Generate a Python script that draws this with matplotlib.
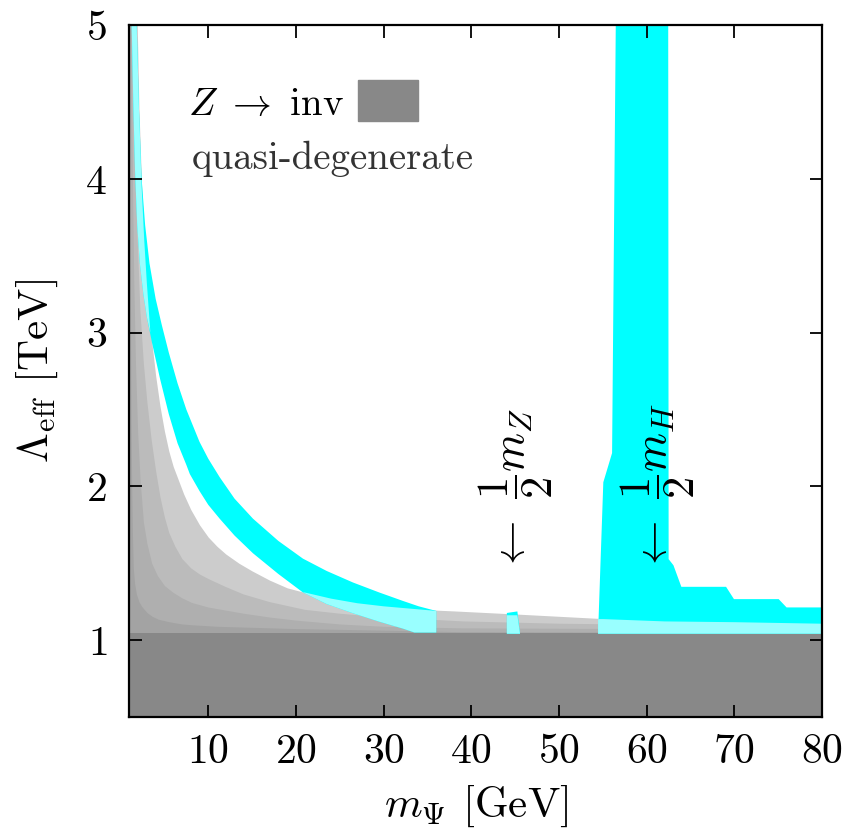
import numpy as np
from matplotlib import pyplot as plt
from matplotlib.patches import Rectangle

plt.rcParams['font.family'] = 'cmr10'
plt.rcParams['mathtext.fontset'] = 'cm'
plt.rcParams['axes.formatter.use_mathtext'] = True

# Quasi-degenerate layers (upper edges), lightest first
layer1X = [1.0, 1.9, 2.1, 2.4, 2.7, 3.0, 3.5, 4.0, 4.5, 5.0, 5.5, 6.0, 6.6, 7.2, 8.0, 9.0, 10.0, 11.0, 12.0, 13.5, 15.0, 17.0, 19.0, 21.0, 24.0, 27.0, 30.0, 34.0, 38.0, 45.0, 55.0, 65.0, 80.0]
layer1Y = [5.6, 5.0, 4.45, 3.95, 3.6, 3.32, 2.97, 2.72, 2.52, 2.36, 2.23, 2.13, 2.04, 1.95, 1.85, 1.75, 1.67, 1.61, 1.56, 1.50, 1.45, 1.39, 1.34, 1.31, 1.27, 1.24, 1.22, 1.20, 1.19, 1.17, 1.14, 1.125, 1.11]
layer2X = [1.0, 1.3, 1.5, 1.8, 2.2, 2.6, 3.0, 3.5, 4.0, 4.5, 5.0, 5.5, 6.2, 7.0, 8.0, 9.0, 10.0, 11.9, 14.0, 17.0, 21.0, 25.0, 29.0, 34.0, 39.0, 50.0, 80.0]
layer2Y = [5.6, 5.0, 4.45, 3.75, 3.15, 2.8, 2.55, 2.3, 2.1, 1.93, 1.80, 1.70, 1.61, 1.53, 1.47, 1.43, 1.40, 1.35, 1.30, 1.25, 1.20, 1.175, 1.155, 1.14, 1.125, 1.11, 1.09]
layer3X = [1.0, 1.2, 1.35, 1.5, 1.7, 1.95, 2.22, 2.6, 3.0, 3.55, 4.2, 5.0, 6.0, 7.0, 8.1, 10.0, 12.0, 14.0, 17.0, 20.0, 25.0, 30.0, 38.7, 80.0]
layer3Y = [5.6, 5.0, 4.0, 3.35, 2.8, 2.35, 2.05, 1.77, 1.63, 1.50, 1.42, 1.355, 1.31, 1.275, 1.245, 1.215, 1.195, 1.175, 1.15, 1.13, 1.105, 1.09, 1.08, 1.07]
layer4X = [1.0, 1.05, 1.1, 1.15, 1.2, 1.27, 1.35, 1.45, 1.6, 1.8, 2.1, 2.4, 3.0, 3.6, 4.3, 5.5, 7.0, 8.1, 11.0, 14.0, 20.0, 30.0, 38.7, 80.0]
layer4Y = [5.6, 5.0, 3.6, 2.9, 2.4, 2.0, 1.7, 1.47, 1.37, 1.30, 1.25, 1.22, 1.18, 1.155, 1.136, 1.12, 1.105, 1.10, 1.09, 1.085, 1.075, 1.065, 1.055, 1.05]

# Z -> inv bound
zInvLimit = 1.045

# Relic density band below m_Z/2 (upper and lower edges)
band1UpperX = [1.27, 1.5, 1.84, 2.1, 2.4, 2.8, 3.3, 4.0, 4.7, 5.5, 6.5, 7.5, 9.0, 10.0, 11.3, 13.0, 15.1, 18.0, 20.8, 23.5, 26.5, 29.5, 32.2, 34.0, 36.0]
band1UpperY = [5.6, 5.3, 5.0, 4.45, 4.0, 3.7, 3.45, 3.22, 3.05, 2.87, 2.67, 2.5, 2.29, 2.18, 2.06, 1.92, 1.79, 1.645, 1.53, 1.45, 1.375, 1.31, 1.255, 1.22, 1.19]
band1LowerX = [1.27, 1.45, 1.65, 1.9, 2.2, 2.6, 3.0, 3.6, 4.5, 5.5, 6.5, 7.5, 7.9, 8.3, 9.0, 10.0, 11.3, 13.0, 15.1, 18.0, 20.8, 23.5, 26.5, 29.5, 32.2, 33.5, 36.0]
band1LowerY = [5.0, 4.5, 4.05, 3.7, 3.45, 3.25, 3.1, 2.93, 2.70, 2.47, 2.28, 2.14, 2.08, 2.04, 1.97, 1.88, 1.79, 1.68, 1.565, 1.43, 1.31, 1.235, 1.175, 1.12, 1.075, 1.05, 1.05]

# parts of band 1 lying on the quasi-degenerate region
overlapLowX = [20.8, 23.5, 26.5, 29.5, 32.2, 33.5, 36.0, 36.0, 34.0, 30.0, 27.0, 24.0, 21.0]
overlapLowY = [1.31, 1.235, 1.175, 1.12, 1.075, 1.05, 1.05, 1.19, 1.20, 1.22, 1.24, 1.27, 1.31]
overlapTopX = [1.27, 1.45, 1.65, 1.9, 2.2, 2.6, 3.0, 3.4, 3.0, 2.7, 2.4, 2.2, 2.1, 1.84, 1.5, 1.27]
overlapTopY = [5.0, 4.5, 4.05, 3.7, 3.45, 3.25, 3.1, 3.0, 3.32, 3.6, 3.95, 4.3, 4.45, 5.0, 5.3, 5.6]

# Z resonance sliver
zPeakX = [44.0, 44.6, 45.2, 45.5]
zPeakUpper = [1.18, 1.185, 1.19, 1.045]
zPeakOverlap = [1.165, 1.165, 1.165, 1.045]

# Higgs resonance region
higgsX = [54.4, 55.0, 56.0, 56.45, 62.4, 62.45, 63.0, 63.9, 69.0, 69.9, 75.0, 75.9, 80.0]
higgsUpper = [1.045, 2.03, 2.22, 5.2, 5.2, 1.53, 1.49, 1.35, 1.35, 1.27, 1.27, 1.216, 1.216]
higgsOverlapX = [54.4, 55.0, 62.0, 70.0, 80.0]
higgsOverlap = [1.14, 1.14, 1.125, 1.12, 1.11]

grays = ['#cccccc', '#bbbbbb', '#afafaf', '#a3a3a3']
cyan = '#00ffff'
lightCyan = '#99ffff'

fig = plt.figure(figsize=(8.47, 8.40), dpi=100)
ax = fig.add_axes([0.1527, 0.1464, 0.8178, 0.8238])

# Draw gray layers
layers = [(layer1X, layer1Y), (layer2X, layer2Y), (layer3X, layer3Y), (layer4X, layer4Y)]
for (lx, ly), col in zip(layers, grays):
    ax.fill_between(lx, 0.4, ly, color=col, linewidth=0)
ax.fill_between([1, 80], 0.4, zInvLimit, color='#888888', linewidth=0)

# Draw cyan regions
ax.fill(band1UpperX + band1LowerX[::-1], band1UpperY + band1LowerY[::-1], color=cyan, linewidth=0)
ax.fill(overlapLowX, overlapLowY, color=lightCyan, linewidth=0)
ax.fill(overlapTopX, overlapTopY, color=lightCyan, linewidth=0)
ax.fill_between(zPeakX, zInvLimit, zPeakUpper, color=cyan, linewidth=0)
ax.fill_between(zPeakX, zInvLimit, zPeakOverlap, color=lightCyan, linewidth=0)
ax.fill_between(higgsX, zInvLimit, higgsUpper, color=cyan, linewidth=0)
ax.fill_between(higgsOverlapX, zInvLimit, higgsOverlap, color=lightCyan, linewidth=0)

# Resonance labels
ax.text(45.0, 1.44, r'$\leftarrow\ \dfrac{1}{2}m_Z$', rotation=90, ha='center', va='bottom', fontsize=32)
ax.text(61.3, 1.44, r'$\leftarrow\ \dfrac{1}{2}m_H$', rotation=90, ha='center', va='bottom', fontsize=32)

# Key
ax.text(0.085, 0.885, r'$Z\ \rightarrow\ $inv', transform=ax.transAxes, fontsize=28, va='center')
ax.add_patch(Rectangle((0.3295, 0.861), 0.0879, 0.0592, transform=ax.transAxes, color='#888888'))
ax.text(0.09, 0.806, 'quasi-degenerate', transform=ax.transAxes, fontsize=28, va='center', color='#333333')

ax.set_xlim(1, 80)
ax.set_ylim(0.5, 5)
ax.set_xticks(np.arange(10, 81, 10))
ax.set_yticks([1, 2, 3, 4, 5])
ax.tick_params(direction='in', length=9, width=1.3, labelsize=30, top=True, right=True)
ax.tick_params(axis='x', pad=12)
ax.tick_params(axis='y', pad=16)
for spine in ax.spines.values():
    spine.set_linewidth(1.6)
    spine.set_zorder(5)

ax.set_xlabel(r'$m_\Psi$ [GeV]', fontsize=31, labelpad=9)
ax.set_ylabel(r'$\Lambda_{\rm eff}$ [TeV]', fontsize=31, labelpad=18)

plt.savefig('out.png', dpi=100)
